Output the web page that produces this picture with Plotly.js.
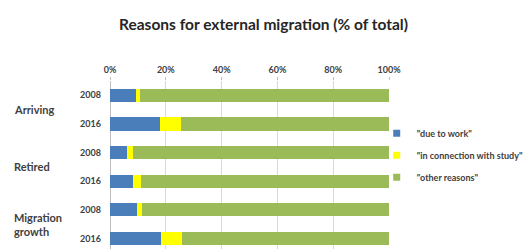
<!DOCTYPE html>
<html><head><meta charset="utf-8">
<script src="https://cdn.plot.ly/plotly-3.0.1.min.js"></script>
<style>html,body{margin:0;padding:0;overflow:hidden;background:#fff}</style>
</head><body><div id="chart" style="width:527px;height:249px"></div>
<script>
const groups = ["Arriving", "Retired", "Migration<br>growth"];
const years = ["2008", "2016"];
const dueToWork = [9.2, 18.0, 6.0, 8.4, 9.6, 18.3];
const study = [1.6, 7.4, 2.2, 2.8, 1.8, 7.5];
const other = [89.2, 74.6, 91.8, 88.8, 88.6, 74.2];
const seriesNames = ['"due to work"', '"in connection with study"', '"other reasons"'];
const colors = ["#4A7EBB", "#FFFF00", "#9BBB59"];
const FONT = "Lato, 'Liberation Sans', sans-serif";

const cats = [], tickText = [];
groups.forEach(g => years.forEach(y => { cats.push(g + "|" + y); tickText.push(y); }));

const bars = [dueToWork, study, other].map((vals, i) => ({
  type: "bar", orientation: "h", x: vals, y: cats, name: seriesNames[i],
  marker: {color: colors[i], line: {width: 0}}, showlegend: false
}));
const legendItems = seriesNames.map((n, i) => ({
  type: "scatter", mode: "markers", x: [null], y: [null], name: n, legendgroup: "g" + i,
  marker: {symbol: "square", size: 7, color: colors[i]}, showlegend: true
}));

const annotations = groups.map((g, i) => ({
  xref: "paper", yref: "y", x: -0.35, y: i * 2 + 0.5, xanchor: "left", yanchor: "middle",
  align: "left", text: g, showarrow: false,
  font: {family: FONT, size: 11, color: "#404040", weight: "bold"}
}));

const layout = {
  width: 527, height: 249,
  margin: {l: 110, r: 138, t: 81, b: 0, autoexpand: false},
  paper_bgcolor: "#fff", plot_bgcolor: "#fff",
  barmode: "stack", bargap: 0.54,
  title: {text: "<b>Reasons for external migration (% of total)</b>", x: 0.5, xref: "container", xanchor: "center", y: 0.9, yanchor: "middle",
    font: {family: FONT, size: 15.5, color: "#262626"}},
  xaxis: {side: "top", range: [0, 100], dtick: 20, ticksuffix: "%", showgrid: true, gridcolor: "#d9d9d9",
    zeroline: true, zerolinecolor: "#bfbfbf", ticks: "outside", ticklen: 3, tickcolor: "#bfbfbf",
    tickfont: {family: FONT, size: 9, color: "#404040", weight: "bold"}, fixedrange: true},
  yaxis: {type: "category", categoryarray: cats, tickvals: cats, ticktext: tickText, range: [5.37, -0.5],
    showgrid: false, zeroline: false, ticks: "", ticklabelstandoff: 8,
    tickfont: {family: FONT, size: 9, color: "#404040", weight: "bold"}},
  legend: {x: 0.956, xanchor: "left", y: 0.775, yanchor: "top", traceorder: "grouped", tracegroupgap: 3,
    itemwidth: 30, font: {family: FONT, size: 9, color: "#404040", weight: "bold"},
    bgcolor: "rgba(0,0,0,0)"},
  annotations: annotations,
  showlegend: true
};
Plotly.newPlot("chart", bars.concat(legendItems), layout, {displayModeBar: false, staticPlot: true});
</script></body></html>
